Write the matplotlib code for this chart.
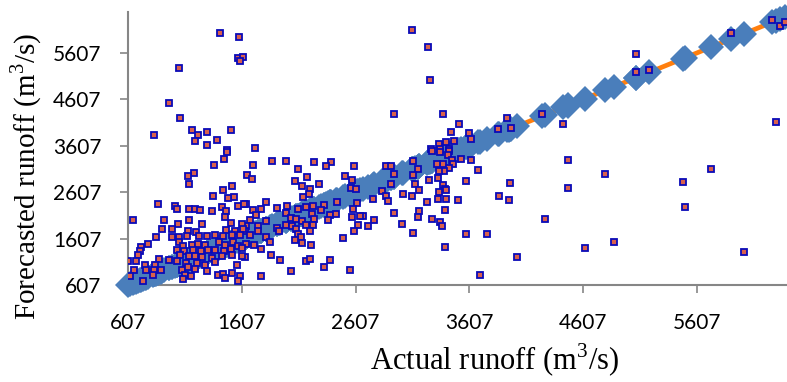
import matplotlib
matplotlib.use("Agg")
import matplotlib.pyplot as plt

plt.rcParams['mathtext.fontset'] = 'custom'
plt.rcParams['mathtext.rm'] = 'Liberation Serif'

# actual runoff vs forecasted runoff (m3/s)
actual = [
    1416, 1581, 1572, 1621, 1592, 1058, 968, 1064, 838, 1170, 1220, 1196, 1302, 1302, 1392, 1513, 1475, 1727,
    3105, 3248, 3260, 2944, 3377, 3521, 3445, 3606, 3624, 3472, 3404, 3340, 3272, 3354, 3430,
    3762, 3861, 3943, 3978, 3969, 3870, 3955, 4026, 4242, 4433, 4277, 4479, 4474, 4620, 4800, 4879,
    5069, 5069, 5187, 5486, 5500, 5734, 5908, 6022, 6265, 6341, 6385, 6303,
    2873, 2917, 2949, 3116, 3155, 3111, 3275, 3351, 3433, 3424, 3375, 3325, 3457, 3463, 3530, 3626,
    3688, 3433, 3384, 3345, 3331, 3580, 3257, 2920, 3134, 3375, 3395, 3404, 3345, 3164, 2838, 2876,
    2891, 2764, 3028, 3105, 3331, 3404, 3509, 3239, 3395, 3169, 3160, 2944, 3275, 3348, 3366, 3019,
    2773, 2671, 2720, 3111, 3580, 3392, 3697,
    1876, 1994, 2246, 2395, 2346, 2595, 1706, 1654, 1698, 2102, 2181, 2073, 2284, 2137, 2205, 2199,
    2146, 2518, 2580, 2571, 2615, 2448, 2624, 1823, 1642, 1920, 2008, 2102, 2170, 2234, 2328, 2307,
    1999, 2225, 2386, 2439, 2586, 2580, 2650, 1706, 1779, 1735, 1683, 1823, 2038, 2087, 2140, 2243,
    2366, 2170, 2234, 1994, 2049, 1920, 1935, 1750, 1647, 1636, 1750, 2087, 2205, 2630, 2595, 1683,
    1823, 2102, 2131, 2073, 2498, 1853, 2140, 2214, 1713, 1647, 1779, 1862, 1639, 1946, 2170, 2205,
    2386, 2331, 2038, 2557, 1779,
    1475, 1454, 1366, 1187, 1137, 1146, 1524, 1445, 1542, 1489, 1357, 868, 1020, 1041, 1143, 1196,
    1240, 1431, 1348, 1469, 1572, 1627, 654, 926, 1143, 1460, 1049, 1260, 1513, 1612, 909, 991,
    1137, 1205, 1469, 1548, 1621, 851, 997, 1058, 1123, 1231, 1299, 1372, 1445, 1519, 1592, 780,
    719, 1056, 1093, 1167, 1220, 1284, 1410, 1460, 1533, 1577, 713, 1041, 1102, 1181, 1249, 1313,
    1372, 1449, 1513, 1612, 698, 1064, 1143, 1196, 1255, 1348, 1431, 1519, 1612, 604, 677, 882,
    968, 1035, 1117, 1211, 1284, 1372, 1563, 757, 844, 895, 662, 765, 838, 1079, 1137, 1196,
    1299, 1396, 1445, 1519, 625, 830, 1108, 1161, 1592, 1088, 1460, 742, 1577,
]
forecast = [
    6044, 5945, 5492, 5527, 5441, 5290, 4529, 4206, 3833, 3941, 3833, 3710, 3904, 3630, 3732, 3947, 3516, 3553,
    6109, 5742, 5025, 4299, 4292, 4070, 3911, 3876, 3753, 3717, 3682, 3646, 3544, 3544, 3531,
    1700, 3975, 4212, 3990, 2799, 2525, 2445, 1204, 4286, 4077, 2023, 3307, 2704, 1411, 2993, 1527,
    5585, 5204, 5247, 2820, 2281, 3113, 6044, 1325, 6311, 6182, 6281, 4120,
    3165, 3165, 3006, 3273, 3113, 2984, 3501, 3473, 3501, 3402, 3221, 3221, 3307, 3215, 3322, 3294,
    3085, 3128, 3070, 3070, 2913, 2855, 2870, 2790, 2790, 2768, 2682, 2647, 2611, 2661, 2626, 2518,
    2411, 2460, 2575, 2518, 2460, 2467, 2432, 2396, 2217, 2202, 2072, 2165, 2023, 1965, 1885, 1915,
    2008, 2087, 1885, 1734, 1700, 1426, 823,
    3273, 3273, 3251, 3258, 3178, 3178, 3199, 2984, 2891, 3100, 2934, 2848, 2790, 2740, 2669, 2568,
    2503, 2956, 2863, 2697, 2676, 2396, 2374, 2396, 2359, 2260, 2309, 2245, 2288, 2316, 2331, 2217,
    2159, 2131, 2122, 2137, 2245, 2072, 2087, 2230, 2245, 2122, 2014, 1980, 2051, 2029, 1993, 2029,
    2014, 1906, 1906, 1894, 1872, 1835, 1764, 1885, 1885, 1764, 1764, 1814, 1764, 1894, 1777, 1678,
    1635, 1706, 1635, 1577, 1620, 1527, 1512, 1463, 1469, 1497, 1383, 1260, 1210, 1146, 1131, 1167,
    1146, 995, 915, 924, 794,
    3473, 3329, 3199, 3014, 2949, 2784, 2747, 2661, 2497, 2482, 2531, 2353, 2316, 2251, 2245, 2245,
    2230, 2281, 2195, 2195, 2303, 2353, 2008, 2014, 2014, 2066, 1922, 1928, 1943, 1922, 1820, 1820,
    1777, 1743, 1799, 1764, 1814, 1635, 1635, 1635, 1656, 1656, 1669, 1678, 1656, 1678, 1678, 1497,
    1426, 1527, 1441, 1475, 1491, 1475, 1527, 1475, 1527, 1441, 1333, 1368, 1333, 1368, 1333, 1368,
    1368, 1333, 1389, 1404, 1247, 1247, 1238, 1225, 1210, 1189, 1225, 1260, 1225, 1118, 1118, 1167,
    1139, 1118, 1081, 1081, 1044, 1103, 1044, 1044, 1044, 937, 937, 937, 924, 937, 995, 958,
    902, 829, 844, 866, 807, 829, 829, 794, 807, 743, 758, 687, 687,
]
ticks = [607, 1607, 2607, 3607, 4607, 5607]

fig = plt.figure(figsize=(7.87, 3.82), dpi=100)
ax = fig.add_axes([128 / 787, 97 / 382, 659 / 787, 273 / 382])

# ideal line: actual against itself
ideal = sorted(actual)
ax.plot(ideal, ideal, '-', color='#FF7F0E', linewidth=3.4, zorder=2, clip_on=False)
ax.plot(ideal, ideal, 'D', color='#4A7EBB', markersize=13, markeredgewidth=0,
        linestyle='none', zorder=3, clip_on=False)

ax.plot(actual, forecast, 's', markersize=4.8, markerfacecolor='#D8604C',
        markeredgecolor='#0A0AB8', markeredgewidth=1.3, linestyle='none', zorder=4)

ax.set_xlim(607, 6400)
ax.set_ylim(607, 6490)
ax.set_xticks(ticks)
ax.set_yticks(ticks)
ax.set_xticklabels([str(t) for t in ticks], fontfamily='Lato', fontsize=15)
ax.set_yticklabels([str(t) for t in ticks], fontfamily='Lato', fontsize=15)

for s in ['top', 'right']:
    ax.spines[s].set_visible(False)
for s in ['left', 'bottom']:
    ax.spines[s].set_color('#868686')
    ax.spines[s].set_linewidth(1.5)
ax.tick_params(direction='out', length=6, width=1.2, color='#868686')
ax.tick_params(axis='y', pad=13)
ax.tick_params(axis='x', pad=14)

fig.text(495 / 787, 1 - 360 / 382, r'Actual runoff (m$^{\mathrm{3}}$/s)', ha='center', va='center',
         fontfamily='Liberation Serif', fontsize=22)
fig.text(26 / 787, 1 - 176 / 382, r'Forecasted runoff (m$^{\mathrm{3}}$/s)', ha='center', va='center',
         rotation=90, fontfamily='Liberation Serif', fontsize=21)

fig.savefig('out.png', dpi=100)
